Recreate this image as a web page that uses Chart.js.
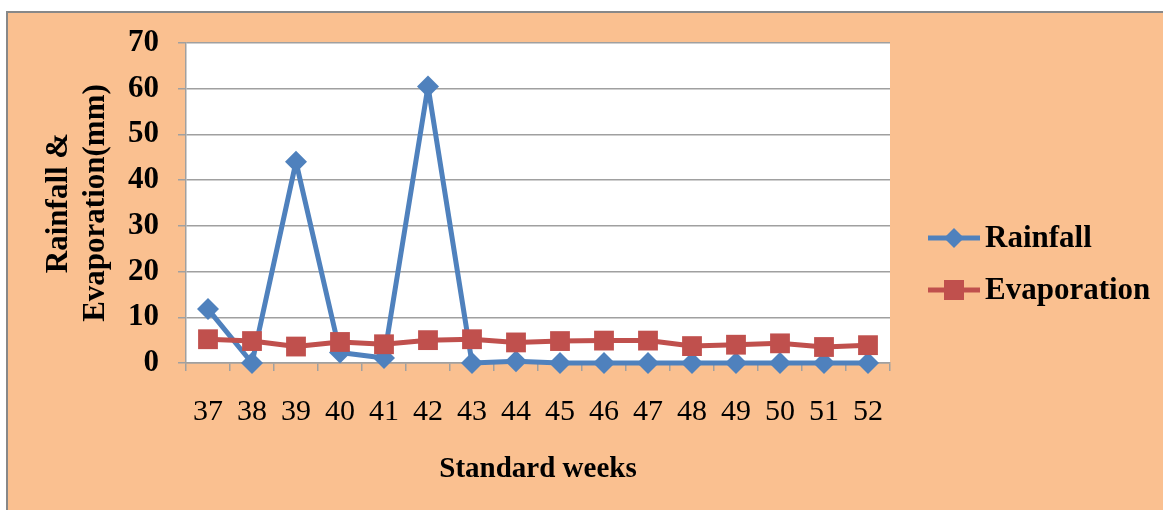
<!DOCTYPE html>
<html>
<head>
<meta charset="utf-8">
<script src="https://cdn.jsdelivr.net/npm/chart.js@4.4.0/dist/chart.umd.min.js"></script>
<style>
  html, body { margin: 0; padding: 0; background: #ffffff; }
  #wrap { width: 1163px; height: 510px; position: relative; }
</style>
</head>
<body>
<div id="wrap"><canvas id="c" width="1163" height="510"></canvas></div>
<script>
const weeks = ['37','38','39','40','41','42','43','44','45','46','47','48','49','50','51','52'];
const rainfall = [11.8, 0, 44.0, 2.3, 1.1, 60.5, 0, 0.4, 0, 0, 0, 0, 0, 0, 0, 0];
const evaporation = [5.2, 4.8, 3.6, 4.6, 4.1, 5.0, 5.2, 4.5, 4.8, 4.9, 4.9, 3.7, 4.0, 4.3, 3.5, 3.9];
const yTicks = [0, 10, 20, 30, 40, 50, 60, 70];
const seriesNames = ['Rainfall', 'Evaporation'];

const BLUE = '#4F81BD';
const RED = '#C0504D';
const PEACH = '#FAC090';
const GRID = '#A0A0A0';
const FONT = "'Liberation Serif', 'Times New Roman', serif";

const bgPlugin = {
  id: 'bg',
  beforeDraw(chart) {
    const ctx = chart.ctx;
    ctx.save();
    ctx.fillStyle = '#ffffff';
    ctx.fillRect(0, 0, chart.width, chart.height);
    ctx.fillStyle = PEACH;
    ctx.fillRect(7, 12, chart.width - 7, chart.height - 12);
    ctx.strokeStyle = '#888888';
    ctx.lineWidth = 2;
    ctx.beginPath();
    ctx.moveTo(7, chart.height);
    ctx.lineTo(7, 12);
    ctx.lineTo(chart.width, 12);
    ctx.stroke();
    const a = chart.chartArea;
    ctx.fillStyle = '#ffffff';
    ctx.fillRect(a.left, a.top, a.right - a.left, a.bottom - a.top);
    ctx.restore();
  }
};

const legendPlugin = {
  id: 'customLegend',
  afterDraw(chart) {
    const ctx = chart.ctx;
    ctx.save();
    const startY = 238, gap = 52;
    chart.data.datasets.forEach((ds, i) => {
      const y = startY + i * gap;
      ctx.strokeStyle = ds.borderColor;
      ctx.lineWidth = 5;
      ctx.beginPath();
      ctx.moveTo(928, y);
      ctx.lineTo(980, y);
      ctx.stroke();
      ctx.fillStyle = ds.borderColor;
      const cx = 954;
      if (ds.pointStyle === 'rectRot') {
        ctx.beginPath();
        ctx.moveTo(cx, y - 10);
        ctx.lineTo(cx + 10, y);
        ctx.lineTo(cx, y + 10);
        ctx.lineTo(cx - 10, y);
        ctx.closePath();
        ctx.fill();
      } else {
        ctx.fillRect(cx - 10, y - 10, 20, 20);
      }
      ctx.fillStyle = '#000000';
      ctx.font = 'bold 31px ' + FONT;
      ctx.textBaseline = 'middle';
      ctx.textAlign = 'left';
      ctx.fillText(ds.label, 985, y + 1);
    });
    ctx.restore();
  }
};

new Chart(document.getElementById('c'), {
  type: 'line',
  data: {
    labels: weeks,
    datasets: [
      {
        label: seriesNames[0],
        data: rainfall,
        borderColor: BLUE,
        backgroundColor: BLUE,
        borderWidth: 5,
        borderJoinStyle: 'round',
        pointStyle: 'rectRot',
        pointRadius: 11,
        pointHoverRadius: 11,
        pointBorderWidth: 0,
        pointBackgroundColor: BLUE,
        tension: 0,
        clip: false,
        order: 2
      },
      {
        label: seriesNames[1],
        data: evaporation,
        borderColor: RED,
        backgroundColor: RED,
        borderWidth: 5,
        borderJoinStyle: 'round',
        pointStyle: 'rect',
        pointRadius: 14,
        pointHoverRadius: 14,
        pointBorderWidth: 0,
        pointBackgroundColor: RED,
        tension: 0,
        clip: false,
        order: 1
      }
    ]
  },
  options: {
    responsive: false,
    animation: false,
    devicePixelRatio: 1,
    layout: { padding: { left: 0, top: 43, right: 273, bottom: 0 } },
    plugins: {
      legend: { display: false },
      tooltip: { enabled: false },
      title: { display: false }
    },
    scales: {
      x: {
        type: 'category',
        offset: true,
        afterFit(scale) { scale.height = 147; },
        grid: {
          offset: true,
          drawOnChartArea: false,
          drawTicks: true,
          tickLength: 8,
          color: GRID,
          lineWidth: 1.5
        },
        border: { display: true, color: GRID, width: 1.5 },
        ticks: {
          color: '#000000',
          font: { family: FONT, size: 30, weight: 'normal' },
          padding: 23,
          maxRotation: 0,
          autoSkip: false
        },
        title: {
          display: true,
          text: 'Standard weeks',
          color: '#000000',
          font: { family: FONT, size: 29, weight: 'bold' },
          padding: { top: 0, bottom: 23 }
        }
      },
      y: {
        min: 0,
        max: 70,
        afterFit(scale) { scale.width = 186; },
        afterBuildTicks(scale) { scale.ticks = yTicks.map(v => ({ value: v })); },
        grid: {
          color: GRID,
          lineWidth: 1.5,
          tickLength: 8,
          drawTicks: true
        },
        border: { display: true, color: GRID, width: 1.5 },
        ticks: {
          color: '#000000',
          font: { family: FONT, size: 31, weight: 'bold' },
          padding: 19
        },
        title: {
          display: true,
          text: ['Rainfall &', 'Evaporation(mm)'],
          color: '#000000',
          font: { family: FONT, size: 31, weight: 'bold', lineHeight: 1.2 },
          padding: { top: 40, bottom: 0 }
        }
      }
    }
  },
  plugins: [bgPlugin, legendPlugin]
});
</script>
</body>
</html>
